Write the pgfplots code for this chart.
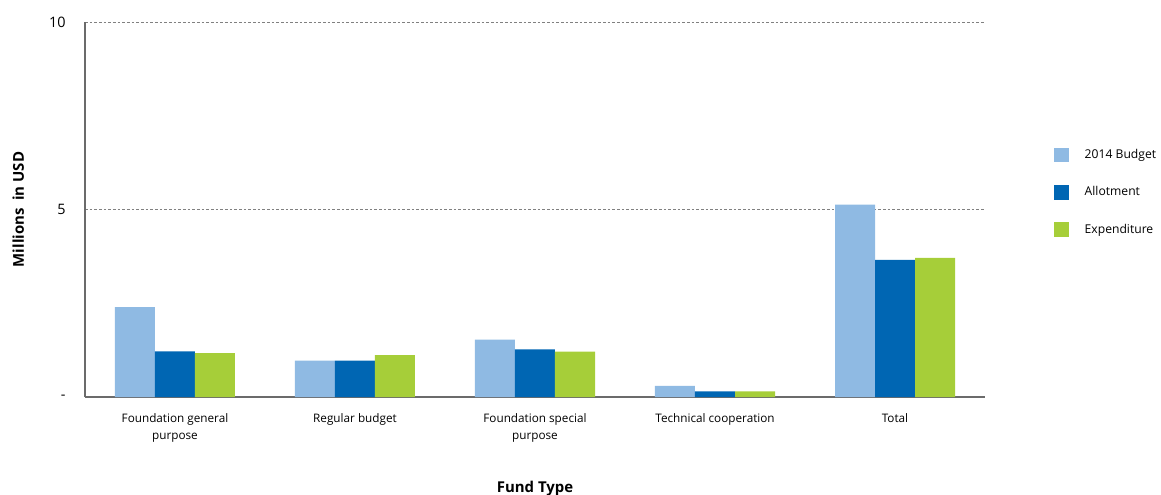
\documentclass[border=0pt]{standalone}
\usepackage{pgfplots}
\pgfplotsset{compat=1.18}
\usepackage{fontspec}
\setmainfont{Open Sans}
\definecolor{budget}{HTML}{8FBAE3}
\definecolor{allot}{HTML}{0066B3}
\definecolor{expend}{HTML}{A6CE39}
\definecolor{axisgray}{HTML}{6B6B6B}
\begin{document}
\begin{tikzpicture}
\path[use as bounding box] (-63.75pt,-72.75pt) rectangle (807pt,297.75pt);
\begin{axis}[
    at={(0,0)}, anchor=south west,
    scale only axis, width=675pt, height=281.25pt,
    ybar=0pt, bar width=30pt,
    xmin=-0.5, xmax=4.5, ymin=0, ymax=10,
    xtick=data,
    xticklabels={Foundation general\\purpose, Regular budget, Foundation special\\purpose, Technical cooperation, Total},
    xticklabel style={align=center, font=\fontsize{8.8}{12.6}\selectfont, yshift=-9pt},
    ytick={0,5,10}, yticklabels={-,5,10},
    yticklabel style={font=\fontsize{10.8}{12}\selectfont, xshift=-11pt},
    major tick length=0pt,
    axis x line*=bottom, axis y line*=left,
    axis line style={axisgray, line width=0.9pt},
    ymajorgrids,
    major grid style={gray, line width=0.6pt, dash pattern=on 2pt off 1.5pt},
    ylabel={\textbf{Millions\ \ in USD}},
    ylabel style={at={(axis description cs:-0.074,0.5)}, anchor=center, font=\fontsize{11.2}{13}\selectfont},
    xlabel={\textbf{Fund Type}},
    xlabel style={at={(axis description cs:0.5,-0.243)}, anchor=center, font=\fontsize{11.2}{13}\selectfont},
    legend style={at={(1.072,0.675)}, anchor=north west, draw=none, fill=none,
        font=\fontsize{9.1}{10}\selectfont, row sep=15.5pt},
    legend cell align=left,
    legend image code/.code={\fill[#1] (0pt,-5.5pt) rectangle (11pt,5.5pt); \path (21pt,0pt);},
    /pgf/number format/assume math mode=true,
]
\addplot[fill=budget, draw=none] coordinates {(0,2.40) (1,0.97) (2,1.53) (3,0.30) (4,5.13)};
\addplot[fill=allot, draw=none] coordinates {(0,1.22) (1,0.97) (2,1.27) (3,0.15) (4,3.66)};
\addplot[fill=expend, draw=none] coordinates {(0,1.17) (1,1.12) (2,1.21) (3,0.15) (4,3.71)};
\legend{2014 Budget, Allotment, Expenditure}
\end{axis}
\end{tikzpicture}
\end{document}
